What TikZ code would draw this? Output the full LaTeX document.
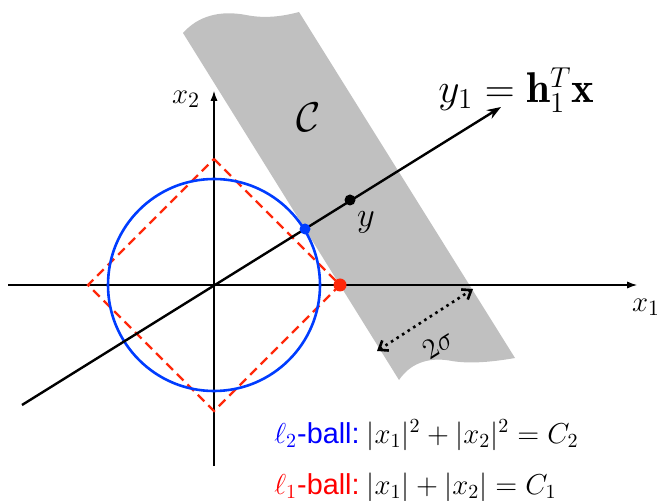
\documentclass[tikz,border=0pt]{standalone}
\usepackage{fontspec}
\newfontfamily\arialf{Liberation Sans}
\usetikzlibrary{arrows.meta}
\definecolor{bandgray}{RGB}{192,192,192}
\definecolor{cblue}{RGB}{0,60,255}
\definecolor{cred}{RGB}{255,40,10}
\begin{document}
\begin{tikzpicture}[x=0.5pt,y=-0.5pt,
  axis/.style={line width=0.55pt,-{Latex[length=5pt,width=3.6pt]}},
  projline/.style={line width=1.2pt,-{Stealth[length=7pt,width=5pt]}},
  ltwo/.style={cblue,line width=1.3pt},
  lone/.style={cred,line width=1.2pt,dash pattern=on 4.6pt off 2.8pt},
  dotmark/.style={circle,inner sep=0pt,minimum size=5.5pt},
  widtharrow/.style={line width=1.3pt,dotted,{Straight Barb[length=4pt,width=6pt]}-{Straight Barb[length=4pt,width=6pt]}},
  lab/.style={inner sep=0pt}]
\useasboundingbox (0,0) rectangle (657,501);
% constraint band
\fill[bandgray] (183,33) .. controls (198,16) and (220,10) .. (246,15)
  .. controls (266,19) and (284,16) .. (299,12)
  -- (515,358)
  .. controls (492,362) and (470,364) .. (452,361)
  .. controls (432,357) and (412,361) .. (399,380) -- cycle;
% coordinates
\coordinate (O) at (214,285);
\coordinate (xL) at (8,285);
\coordinate (xR) at (637,285);
\coordinate (yB) at (214,466);
\coordinate (yT) at (214,91);
\coordinate (lA) at (22,405);
\coordinate (lB) at (501,107);
\coordinate (dT) at (214,159);
\coordinate (dR) at (340,285);
\coordinate (dB) at (214,411);
\coordinate (dL) at (88,285);
\coordinate (wA) at (377,351);
\coordinate (wB) at (473,289);
% axes
\draw[axis] (xL) -- (xR);
\draw[axis] (yB) -- (yT);
% l1 ball
\draw[lone] (dT) -- (dR) -- (dB) -- (dL) -- cycle;
% l2 ball
\draw[ltwo] (O) circle[radius=106];
% projection line
\draw[projline] (lA) -- (lB);
% points
\node[dotmark,fill=cblue] (pb) at (305,229) {};
\node[dotmark,fill=black] (py) at (350,200) {};
\node[dotmark,fill=cred,minimum size=6.5pt] (pr) at (dR) {};
% width arrow
\draw[widtharrow] (wA) -- (wB);
% labels
\node[lab] (lx2) at (186,99) {\fontsize{15.5}{18}\selectfont $x_2$};
\node[lab] (lx1) at (646,307) {\fontsize{15.5}{18}\selectfont $x_1$};
\node[lab] (lC) at (309,117) {\huge $\mathcal{C}$};
\node[lab] (ly) at (366,222) {\LARGE $y$};
\node[lab,anchor=west] (ly1) at (438,90) {\fontsize{21.5}{26}\selectfont $y_1=\mathbf{h}_1^T\mathbf{x}$};
\node[lab,rotate=32] (lsig) at (438,344) {\fontsize{15.5}{18}\selectfont $2\sigma$};
\node[lab,anchor=base west] (leg2) at (274,443) {\Large \textcolor{blue}{$\ell_2$\arialf -ball:}\hspace{3.5pt}$|x_1|^2+|x_2|^2=C_2$};
\node[lab,anchor=base west] (leg1) at (274,494) {\Large \textcolor{red}{$\ell_1$\arialf -ball:}\hspace{3.5pt}$|x_1|+|x_2|=C_1$};
\end{tikzpicture}
\end{document}
